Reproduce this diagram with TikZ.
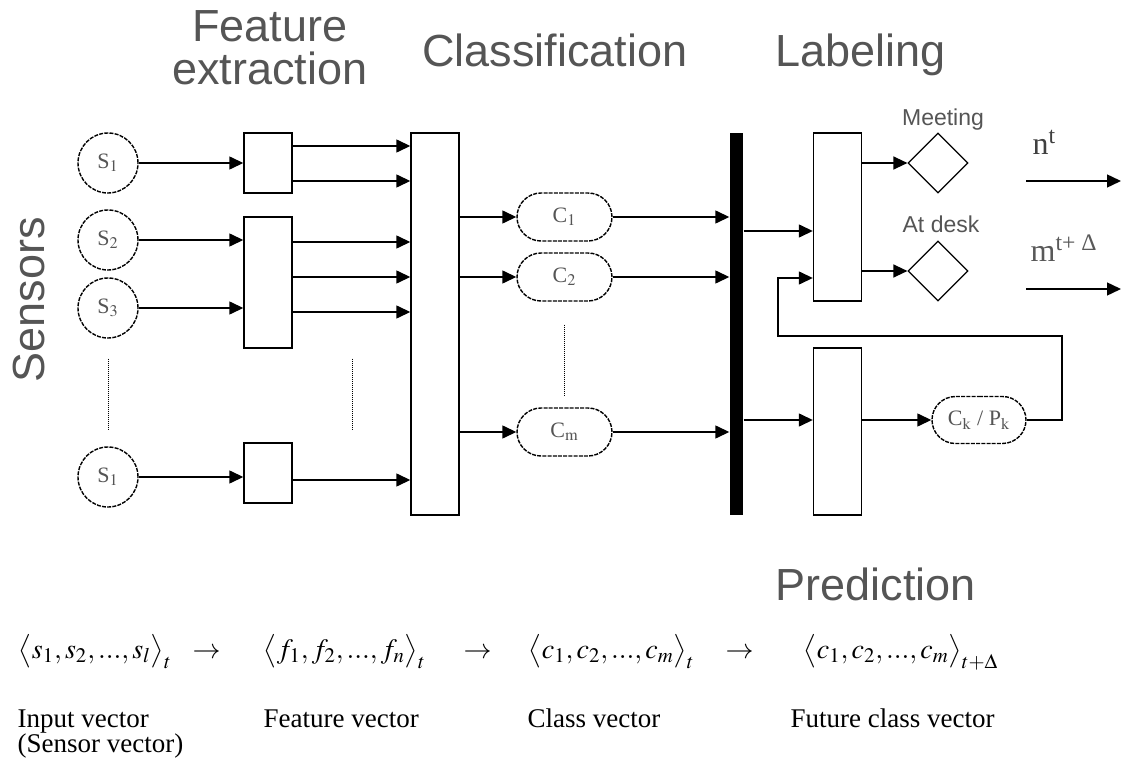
\documentclass[tikz,border=0pt]{standalone}
\usepackage{mathptmx}
\usepackage{fontspec}
\setmainfont{Liberation Serif}
\newfontfamily\headfont{Liberation Sans}
\usetikzlibrary{arrows.meta, positioning, shapes.geometric, shapes.misc}
\definecolor{txtgray}{HTML}{555555}

\begin{document}
\begin{tikzpicture}[x=0.5pt, y=-0.5pt, line width=0.7pt,
                    >={Triangle[length=7pt, width=6.5pt]},
                    every node/.style={inner sep=0pt}]
    \tikzstyle{title}=[font=\headfont\fontsize{22.5}{27}\selectfont, text=txtgray]
    \tikzstyle{tag}=[font=\headfont\fontsize{11.5}{13}\selectfont, text=txtgray, anchor=base]
    \tikzstyle{sensor}=[circle, draw, dash pattern=on 2pt off 0.6pt, minimum size=30pt,
                        text=txtgray, font=\fontsize{11}{13}\selectfont]
    \tikzstyle{block}=[rectangle, draw, minimum width=24pt]
    \tikzstyle{classbox}=[rounded rectangle, draw, dash pattern=on 2pt off 0.6pt,
                          minimum width=47.5pt, minimum height=24pt,
                          text=txtgray, font=\fontsize{11}{13}\selectfont]
    \tikzstyle{label state}=[diamond, draw, minimum size=30pt, line width=0.6pt]
    \tikzstyle{vec}=[anchor=base west, font=\fontsize{14}{16}\selectfont]
    \tikzstyle{note}=[anchor=base west, align=left, font=\fontsize{13.5}{12.5}\selectfont]
    \tikzstyle{gapline}=[dash pattern=on 0.5pt off 0.5pt, line width=0.5pt]
    \useasboundingbox (0,0) rectangle (1126,765);

    % titles
    \node[title, anchor=base] (fe1) at (270,42) {Feature};
    \node[title, anchor=base] (fe2) at (270,85) {extraction};
    \node[title, anchor=base] (clt) at (555,67) {Classification};
    \node[title, anchor=base west] (lbt) at (775,67) {Labeling};
    \node[title, anchor=base west] (prt) at (775,600) {Prediction};
    \node[title, anchor=base, rotate=90] (sen) at (45,300) {Sensors};

    % sensors
    \node[sensor] (s1) at (108,163) {S$_1$};
    \node[sensor] (s2) at (108,240) {S$_2$};
    \node[sensor] (s3) at (108,308) {S$_3$};
    \node[sensor] (sl) at (108,477) {S$_1$};
    \draw[gapline] ([yshift=-10pt]s3.south) -- ([yshift=8.5pt]sl.north);

    % feature extraction
    \node[block, minimum height=30pt] (f1) at (268,163) {};
    \node[block, minimum height=65.5pt] (f2) at (268,282.5) {};
    \node[block, minimum height=30pt] (f3) at (268,473) {};
    \draw[gapline] ([shift={(30pt,-5pt)}]f2.south east) -- ([shift={(30pt,6.5pt)}]f3.north east);

    % classification
    \node[block, minimum height=191pt] (cls) at (435,324) {};
    \node[classbox] (c1) at (564.5,217) {C$_1$};
    \node[classbox] (c2) at (564.5,277) {C$_2$};
    \node[classbox] (cm) at (564.5,432) {C$_\mathrm{m}$};
    \draw[gapline] ([yshift=-11.5pt]c2.south) -- ([yshift=6pt]cm.north);
    \node[fill, minimum width=6.5pt, minimum height=191pt] (bar) at (736.5,324) {};

    % labeling and prediction
    \node[block, minimum height=84pt] (lab) at (837.5,217) {};
    \node[block, minimum height=83.5pt] (pred) at (837.5,431.5) {};
    \node[classbox, minimum width=47pt, minimum height=23.5pt] (ck) at (979,420) {C$_\mathrm{k}$ / P$_\mathrm{k}$};
    \node[label state] (meet) at (938,163) {};
    \node[label state] (desk) at (938,271) {};
    \node[tag] (meetlbl) at (943,126) {Meeting};
    \node[tag] (desklbl) at (941,233) {At desk};

    % connections
    \foreach \s/\f in {s1/f1, s2/f2, s3/f2, sl/f3}
        \draw[->] (\s) -- (\s -| \f.west);
    \foreach \f/\dy in {f1/8.5, f1/-9, f2/20.25, f2/2.75, f2/-14.75, f3/-3.5} {
        \coordinate (out) at ([yshift=\dy pt]\f.east);
        \draw[->] (out) -- (out -| cls.west);
    }
    \foreach \c in {c1, c2, cm} {
        \draw[->] (\c -| cls.east) -- (\c.west);
        \draw[->] (\c.east) -- (\c -| bar.west);
    }
    \coordinate (lin) at ([yshift=-7pt]lab.west);
    \draw[->] (lin -| bar.east) -- (lin);
    \draw[->] (ck -| bar.east) -- (ck -| pred.west);
    \draw[->] (ck -| pred.east) -- (ck.west);
    \draw[->] (meet -| lab.east) -- (meet.west);
    \draw[->] (desk -| lab.east) -- (desk.west);
    \coordinate (fb) at ([yshift=-30.5pt]lab.west);
    \coordinate (up) at (1062,336);
    \coordinate (back) at (778,336);
    \draw[->] (ck.east) -| (up) -- (back) |- (fb);

    % outputs
    \coordinate (nt0) at (1026,181);
    \coordinate (nt1) at (1121,181);
    \coordinate (mt0) at (1026,289);
    \coordinate (mt1) at (1121,289);
    \draw[->] (nt0) -- (nt1);
    \draw[->] (mt0) -- (mt1);
    \node[anchor=base west, font=\fontsize{16}{18}\selectfont, text=black!75] (nt) at (1032,155) {n\textsuperscript{t}};
    \node[anchor=base west, font=\fontsize{16}{18}\selectfont, text=black!65] (mt) at (1030,262) {m\textsuperscript{t+ Δ}};

    % vectors
    \node[vec] (vin) at (18,658) {$\bigl\langle s_1, s_2 ,..., s_l \bigr\rangle_t$};
    \node[vec] (a1) at (192,658) {$\rightarrow$};
    \node[vec] (vfe) at (263,658) {$\bigl\langle f_1, f_2 ,..., f_n \bigr\rangle_t$};
    \node[vec] (a2) at (463,658) {$\rightarrow$};
    \node[vec] (vcl) at (528,658) {$\bigl\langle c_1, c_2 ,..., c_m \bigr\rangle_t$};
    \node[vec] (a3) at (725,658) {$\rightarrow$};
    \node[vec] (vfu) at (803,658) {$\bigl\langle c_1, c_2 ,..., c_m \bigr\rangle_{t+\Delta}$};
    \node[note] (nin) at (17,752) {Input vector\\(Sensor vector)};
    \node[note] (nfe) at (263,727) {Feature vector};
    \node[note] (ncl) at (527,727) {Class vector};
    \node[note] (nfu) at (790,727) {Future class vector};
\end{tikzpicture}
\end{document}
